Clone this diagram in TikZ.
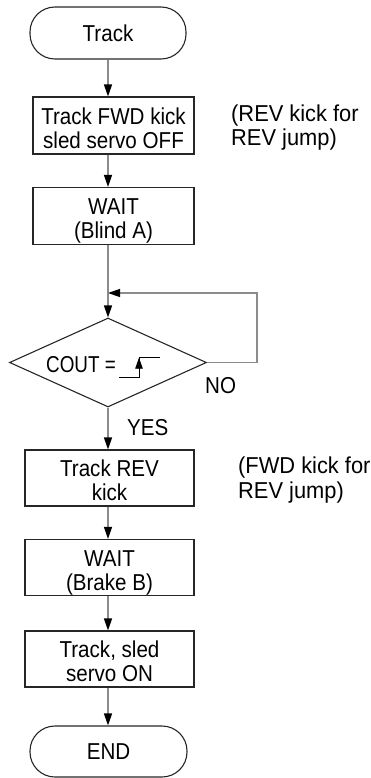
\documentclass[tikz,border=0pt]{standalone}
\usepackage{fontspec}
\setmainfont[FakeStretch=0.895]{Liberation Sans}
\newfontfamily\sidefont[FakeStretch=0.95]{Liberation Sans}
\newfontfamily\coutfont[FakeStretch=0.82]{Liberation Sans}
\usetikzlibrary{shapes.geometric,arrows.meta}
\newcommand{\twolines}[2]{\raisebox{0pt}[0pt][2.4pt]{\begin{tabular}[t]{@{}c@{}}#1\\#2\end{tabular}}}
\begin{document}
\begin{tikzpicture}[x=1pt,y=-1pt,
  font=\fontsize{23}{24}\selectfont,
  box/.style={draw=black!85,line width=1.1pt,minimum height=57pt,align=center,inner sep=0pt},
  term/.style={draw=black!85,line width=1.1pt,rounded corners=25pt,minimum height=52pt,inner sep=0pt},
  conn/.style={draw=black!45,line width=1.3pt,-{Triangle[length=12pt,width=8pt,color=black]}},
  lbl/.style={anchor=base west,inner sep=0pt},
  side/.style={anchor=base west,inner sep=0pt,font=\fontsize{23}{24}\sidefont}]
\useasboundingbox (0,0) rectangle (371,778);
% nodes
\node[term,minimum width=156pt] (start) at (108,33) {Track};
\node[box,minimum width=161pt] (b1) at (113.5,125.5) {\twolines{Track FWD kick}{sled servo OFF}};
\node[box,minimum width=161pt] (b2) at (113.5,216) {\twolines{WAIT}{(Blind A)}};
\node[diamond,draw=black!85,line width=1.1pt,minimum width=197pt,minimum height=89pt,inner sep=0pt,aspect=2.2] (dec) at (108,362.5) {};
\node[box,minimum width=169pt,minimum height=56pt] (b3) at (109.5,478) {\twolines{Track REV}{kick}};
\node[box,minimum width=169pt,minimum height=56pt] (b4) at (109.5,567.5) {\twolines{WAIT}{(Brake B)}};
\node[box,minimum width=169pt,minimum height=56pt] (b5) at (109.5,659) {\twolines{Track, sled}{servo ON}};
\node[term,minimum width=157pt,minimum height=51pt] (stop) at (108.5,751.5) {END};
% texts
\node[lbl,font=\fontsize{23}{24}\coutfont] (cout) at (46,372.7) {COUT =};
\node[lbl] (no) at (205,393) {NO};
\node[lbl] (yes) at (127,435) {YES};
\node[side] (n1a) at (231,121.5) {(REV kick for};
\node[side] (n1b) at (231,145.5) {REV jump)};
\node[side] (n2a) at (238,473.5) {(FWD kick for};
\node[side] (n2b) at (238,498) {REV jump)};
% rising edge symbol
\coordinate (e1) at (119,377.7);
\coordinate (e2) at (139,377.7);
\coordinate (e3) at (139,357.7);
\coordinate (e4) at (160,357.7);
\draw[line width=0.9pt] (e1) -- (e2) -- (e3) -- (e4);
\draw[line width=0.9pt,-{Triangle[length=11pt,width=7.5pt]}] (e2) -- (e3);
% connectors
\coordinate (join) at (108,293);
\coordinate (lr) at (257,293);
\draw[conn] (start) -- (start |- b1.north);
\draw[conn] (b1.south -| start) -- (b2.north -| start);
\draw[conn] (b2.south -| start) -- (dec.north);
\draw[conn] (dec.east) -| (lr) -- (join);
\draw[conn] (dec.south) -- (dec.south |- b3.north);
\draw[conn] (b3.south -| dec.south) -- (b4.north -| dec.south);
\draw[conn] (b4.south -| dec.south) -- (b5.north -| dec.south);
\draw[conn] (b5.south -| dec.south) -- (stop.north -| dec.south);
\end{tikzpicture}
\end{document}
